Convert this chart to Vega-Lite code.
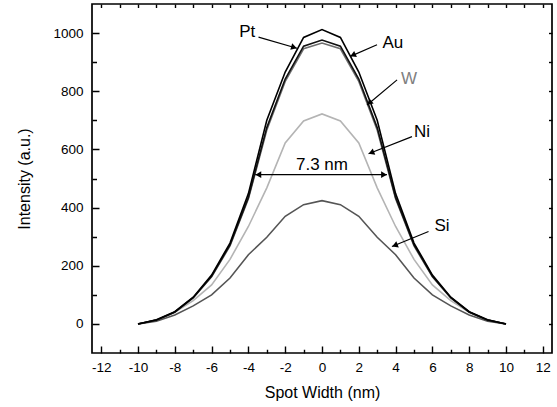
{
  "$schema": "https://vega.github.io/schema/vega-lite/v6.json",
  "width": 460,
  "height": 349,
  "autosize": "none",
  "padding": {"left": 92, "top": 4, "right": 5, "bottom": 54},
  "config": {
    "view": {"stroke": "#000", "strokeWidth": 1.7},
    "font": "Liberation Sans",
    "axis": {
      "grid": false,
      "domain": false,
      "ticks": true,
      "tickCount": 100,
      "labelFont": "Liberation Sans",
      "titleFont": "Liberation Sans",
      "labelFontSize": 13.5,
      "titleFontSize": 16,
      "titleFontWeight": "normal",
      "labelColor": "#000",
      "titleColor": "#000",
      "tickColor": "#000",
      "tickWidth": 1.4,
      "labelOverlap": false
    }
  },
  "datasets": {
    "curves": [
      {"metal": "Ni", "x": -10, "y": 0}, {"metal": "Ni", "x": -9, "y": 13}, {"metal": "Ni", "x": -8, "y": 40}, {"metal": "Ni", "x": -7, "y": 80}, {"metal": "Ni", "x": -6, "y": 134}, {"metal": "Ni", "x": -5, "y": 222}, {"metal": "Ni", "x": -4, "y": 335}, {"metal": "Ni", "x": -3, "y": 468}, {"metal": "Ni", "x": -2, "y": 622}, {"metal": "Ni", "x": -1, "y": 698}, {"metal": "Ni", "x": 0, "y": 722}, {"metal": "Ni", "x": 1, "y": 698}, {"metal": "Ni", "x": 2, "y": 622}, {"metal": "Ni", "x": 3, "y": 468}, {"metal": "Ni", "x": 4, "y": 335}, {"metal": "Ni", "x": 5, "y": 222}, {"metal": "Ni", "x": 6, "y": 134}, {"metal": "Ni", "x": 7, "y": 80}, {"metal": "Ni", "x": 8, "y": 40}, {"metal": "Ni", "x": 9, "y": 13}, {"metal": "Ni", "x": 10, "y": 0},
      {"metal": "Si", "x": -10, "y": 0}, {"metal": "Si", "x": -9, "y": 9}, {"metal": "Si", "x": -8, "y": 31}, {"metal": "Si", "x": -7, "y": 62}, {"metal": "Si", "x": -6, "y": 100}, {"metal": "Si", "x": -5, "y": 158}, {"metal": "Si", "x": -4, "y": 238}, {"metal": "Si", "x": -3, "y": 298}, {"metal": "Si", "x": -2, "y": 370}, {"metal": "Si", "x": -1, "y": 410}, {"metal": "Si", "x": 0, "y": 424}, {"metal": "Si", "x": 1, "y": 410}, {"metal": "Si", "x": 2, "y": 370}, {"metal": "Si", "x": 3, "y": 298}, {"metal": "Si", "x": 4, "y": 238}, {"metal": "Si", "x": 5, "y": 158}, {"metal": "Si", "x": 6, "y": 100}, {"metal": "Si", "x": 7, "y": 62}, {"metal": "Si", "x": 8, "y": 31}, {"metal": "Si", "x": 9, "y": 9}, {"metal": "Si", "x": 10, "y": 0},
      {"metal": "W", "x": -10, "y": 0}, {"metal": "W", "x": -9, "y": 13}, {"metal": "W", "x": -8, "y": 40}, {"metal": "W", "x": -7, "y": 89}, {"metal": "W", "x": -6, "y": 162}, {"metal": "W", "x": -5, "y": 268}, {"metal": "W", "x": -4, "y": 430}, {"metal": "W", "x": -3, "y": 667}, {"metal": "W", "x": -2, "y": 834}, {"metal": "W", "x": -1, "y": 946}, {"metal": "W", "x": 0, "y": 966}, {"metal": "W", "x": 1, "y": 946}, {"metal": "W", "x": 2, "y": 834}, {"metal": "W", "x": 3, "y": 667}, {"metal": "W", "x": 4, "y": 430}, {"metal": "W", "x": 5, "y": 268}, {"metal": "W", "x": 6, "y": 162}, {"metal": "W", "x": 7, "y": 89}, {"metal": "W", "x": 8, "y": 40}, {"metal": "W", "x": 9, "y": 13}, {"metal": "W", "x": 10, "y": 0},
      {"metal": "Au", "x": -10, "y": 0}, {"metal": "Au", "x": -9, "y": 13}, {"metal": "Au", "x": -8, "y": 41}, {"metal": "Au", "x": -7, "y": 90}, {"metal": "Au", "x": -6, "y": 164}, {"metal": "Au", "x": -5, "y": 272}, {"metal": "Au", "x": -4, "y": 435}, {"metal": "Au", "x": -3, "y": 675}, {"metal": "Au", "x": -2, "y": 842}, {"metal": "Au", "x": -1, "y": 955}, {"metal": "Au", "x": 0, "y": 976}, {"metal": "Au", "x": 1, "y": 955}, {"metal": "Au", "x": 2, "y": 842}, {"metal": "Au", "x": 3, "y": 675}, {"metal": "Au", "x": 4, "y": 435}, {"metal": "Au", "x": 5, "y": 272}, {"metal": "Au", "x": 6, "y": 164}, {"metal": "Au", "x": 7, "y": 90}, {"metal": "Au", "x": 8, "y": 41}, {"metal": "Au", "x": 9, "y": 13}, {"metal": "Au", "x": 10, "y": 0},
      {"metal": "Pt", "x": -10, "y": 0}, {"metal": "Pt", "x": -9, "y": 14}, {"metal": "Pt", "x": -8, "y": 42}, {"metal": "Pt", "x": -7, "y": 92}, {"metal": "Pt", "x": -6, "y": 168}, {"metal": "Pt", "x": -5, "y": 278}, {"metal": "Pt", "x": -4, "y": 448}, {"metal": "Pt", "x": -3, "y": 700}, {"metal": "Pt", "x": -2, "y": 866}, {"metal": "Pt", "x": -1, "y": 985}, {"metal": "Pt", "x": 0, "y": 1012}, {"metal": "Pt", "x": 1, "y": 985}, {"metal": "Pt", "x": 2, "y": 866}, {"metal": "Pt", "x": 3, "y": 700}, {"metal": "Pt", "x": 4, "y": 448}, {"metal": "Pt", "x": 5, "y": 278}, {"metal": "Pt", "x": 6, "y": 168}, {"metal": "Pt", "x": 7, "y": 92}, {"metal": "Pt", "x": 8, "y": 42}, {"metal": "Pt", "x": 9, "y": 14}, {"metal": "Pt", "x": 10, "y": 0}
    ],
    "arrows": [
      {"x": -3.45, "y": 986, "x2": -1.36, "y2": 948},
      {"x": 2.99, "y": 960, "x2": 1.54, "y2": 920},
      {"x": 4.08, "y": 839, "x2": 2.45, "y2": 753},
      {"x": 4.89, "y": 644, "x2": 2.53, "y2": 585},
      {"x": 5.79, "y": 318, "x2": 3.8, "y2": 266},
      {"x": -3.63, "y": 513, "x2": 3.53, "y2": 513}
    ],
    "heads": [
      {"x": -1.52, "y": 951, "angle": 16},
      {"x": 1.68, "y": 924, "angle": 156},
      {"x": 2.57, "y": 760, "angle": 140},
      {"x": 2.68, "y": 589, "angle": 158},
      {"x": 3.96, "y": 270, "angle": 158},
      {"x": -3.46, "y": 513, "angle": 180},
      {"x": 3.37, "y": 513, "angle": 0}
    ],
    "labels": [
      {"x": -4.06, "y": 1004, "text": "Pt", "c": "#000000"},
      {"x": 3.85, "y": 967, "text": "Au", "c": "#000000"},
      {"x": 4.73, "y": 843, "text": "W", "c": "#808080"},
      {"x": 5.43, "y": 659, "text": "Ni", "c": "#000000"},
      {"x": 6.52, "y": 336, "text": "Si", "c": "#000000"},
      {"x": 0, "y": 547, "text": "7.3 nm", "c": "#000000"}
    ]
  },
  "layer": [
    {
      "layer": [
        {
          "data": {"name": "curves"},
          "mark": {"type": "line", "strokeWidth": 1.6},
          "encoding": {
            "x": {
              "field": "x", "type": "quantitative",
              "scale": {"domain": [-12.5, 12.5], "nice": false, "zero": false},
              "axis": {
                "orient": "bottom", "offset": -7, "tickSize": 7, "tickCount": 100,
                "values": [-12, -11, -10, -9, -8, -7, -6, -5, -4, -3, -2, -1, 0, 1, 2, 3, 4, 5, 6, 7, 8, 9, 10, 11, 12],
                "labelExpr": "datum.value % 2 === 0 ? '' + datum.value : ''",
                "tickDash": {"condition": {"test": "datum.value % 2 !== 0", "value": [0, 3.3, 3.7, 20]}, "value": [1, 0]},
                "labelPadding": 7, "labelOverlap": false,
                "title": "Spot Width (nm)", "titlePadding": 11
              }
            },
            "y": {
              "field": "y", "type": "quantitative",
              "scale": {"domain": [-100, 1100], "nice": false, "zero": false},
              "axis": {
                "orient": "left", "offset": -7, "tickSize": 7, "tickCount": 100,
                "values": [0, 100, 200, 300, 400, 500, 600, 700, 800, 900, 1000],
                "labelExpr": "datum.value % 200 === 0 ? '' + datum.value : ''",
                "tickDash": {"condition": {"test": "datum.value % 200 !== 0", "value": [0, 2.5, 4.5, 20]}, "value": [1, 0]},
                "labelPadding": 9, "labelOverlap": false,
                "title": "Intensity (a.u.)", "titlePadding": 20
              }
            },
            "color": {
              "field": "metal", "type": "nominal",
              "scale": {"domain": ["Ni", "Si", "W", "Au", "Pt"], "range": ["#b4b4b4", "#555555", "#6e6e6e", "#111111", "#000000"]},
              "legend": null
            }
          }
        },
        {
          "data": {"name": "arrows"},
          "mark": {"type": "rule", "strokeWidth": 1.2, "color": "#000"},
          "encoding": {
            "x": {"field": "x", "type": "quantitative"},
            "y": {"field": "y", "type": "quantitative"},
            "x2": {"field": "x2"},
            "y2": {"field": "y2"}
          }
        },
        {
          "data": {"name": "heads"},
          "mark": {"type": "point", "shape": "triangle-right", "filled": true, "color": "#000", "size": 45, "opacity": 1},
          "encoding": {
            "x": {"field": "x", "type": "quantitative"},
            "y": {"field": "y", "type": "quantitative"},
            "angle": {"field": "angle", "type": "quantitative", "scale": null}
          }
        },
        {
          "data": {"name": "labels"},
          "mark": {"type": "text", "fontSize": 17, "font": "Liberation Sans", "align": "center", "baseline": "middle"},
          "encoding": {
            "x": {"field": "x", "type": "quantitative"},
            "y": {"field": "y", "type": "quantitative"},
            "text": {"field": "text"},
            "color": {"field": "c", "type": "nominal", "scale": null}
          }
        }
      ]
    },
    {
      "data": {"name": "curves"},
      "mark": {"type": "point", "opacity": 0},
      "encoding": {
        "x": {
          "field": "x", "type": "quantitative",
          "scale": {"domain": [-12.5, 12.5], "nice": false, "zero": false},
          "axis": {"orient": "top", "offset": -3.5, "tickSize": 3.5, "tickCount": 100, "values": [-12, -11, -10, -9, -8, -7, -6, -5, -4, -3, -2, -1, 0, 1, 2, 3, 4, 5, 6, 7, 8, 9, 10, 11, 12], "labels": false, "title": null}
        },
        "y": {
          "field": "y", "type": "quantitative",
          "scale": {"domain": [-100, 1100], "nice": false, "zero": false},
          "axis": {"orient": "right", "offset": -3.5, "tickSize": 3.5, "tickCount": 100, "values": [0, 100, 200, 300, 400, 500, 600, 700, 800, 900, 1000], "labels": false, "title": null}
        }
      }
    }
  ],
  "resolve": {"scale": {"x": "independent", "y": "independent"}, "axis": {"x": "independent", "y": "independent"}}
}
